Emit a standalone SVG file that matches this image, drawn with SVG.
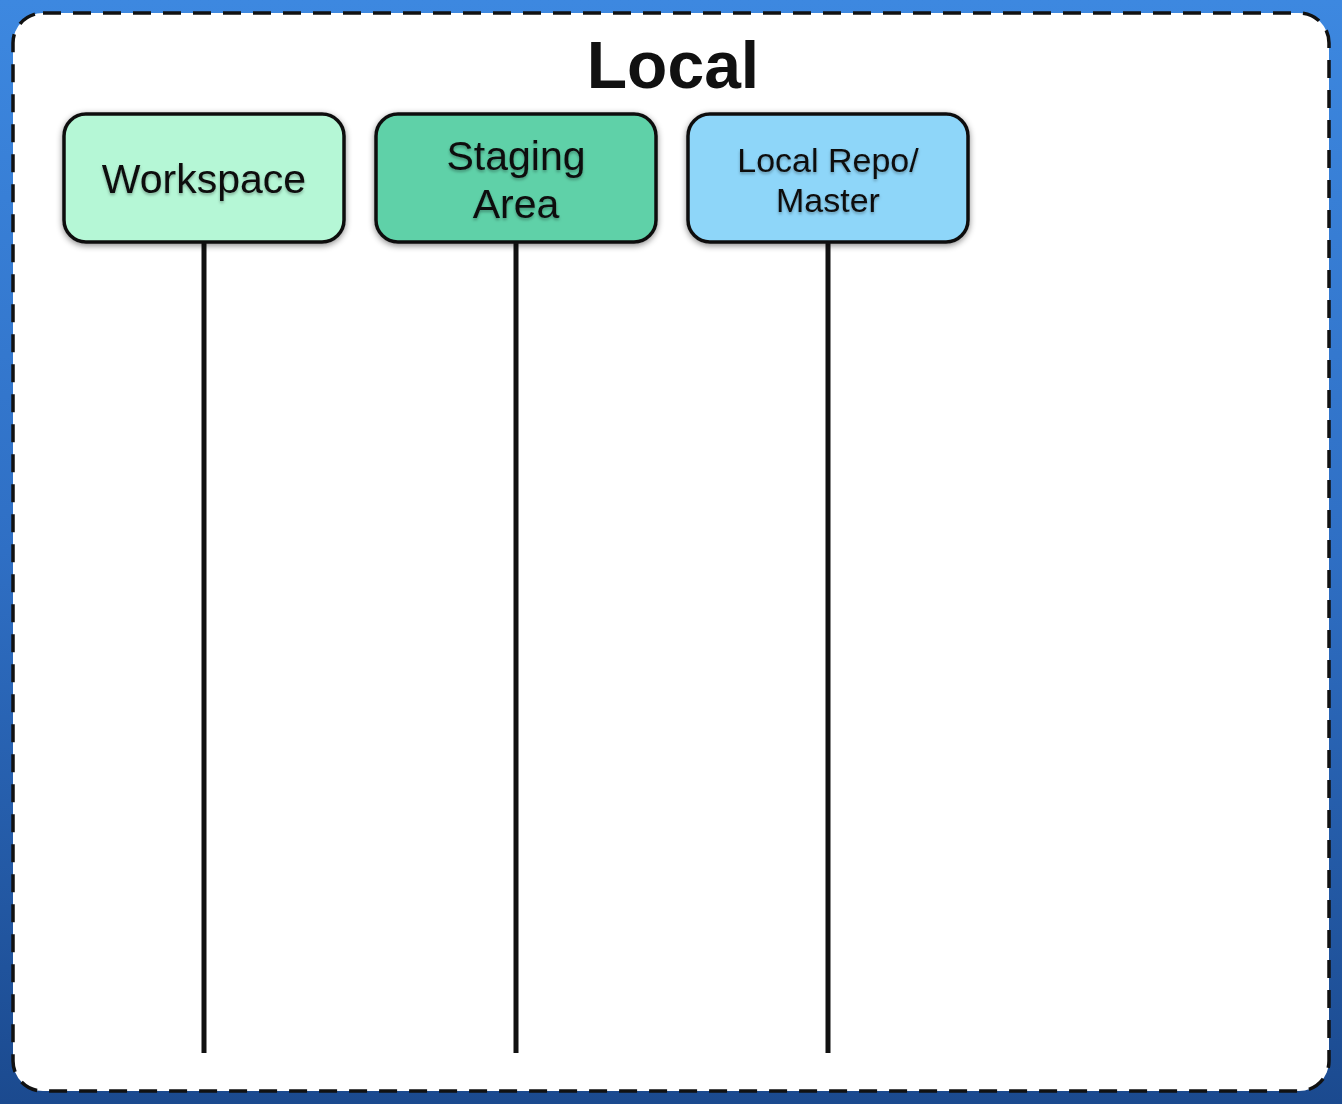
<svg xmlns="http://www.w3.org/2000/svg" width="1342" height="1104" viewBox="0 0 1342 1104">
<defs>
<linearGradient id="bg" x1="0" y1="0" x2="0" y2="1">
<stop offset="0" stop-color="#3d88e0"/>
<stop offset="0.5" stop-color="#2f6fc4"/>
<stop offset="1" stop-color="#1b4a8f"/>
</linearGradient>
<filter id="sh" x="-10%" y="-10%" width="120%" height="130%">
<feDropShadow dx="0" dy="2" stdDeviation="3" flood-color="#000" flood-opacity="0.45"/>
</filter>
<filter id="tsh" x="-5%" y="-10%" width="110%" height="130%">
<feDropShadow dx="0" dy="2" stdDeviation="1.5" flood-color="#000" flood-opacity="0.3"/>
</filter>
</defs>
<style>
.node{stroke:#111;stroke-width:3.5}
.lbl{font-family:"Liberation Sans",Arial,sans-serif;fill:#111;text-anchor:middle}
.conn line{stroke:#111;stroke-width:5}
</style>
<rect x="0" y="0" width="1342" height="1104" fill="url(#bg)"/>
<rect id="frame" x="13" y="13" width="1316" height="1078" rx="30" fill="#fff" stroke="#111" stroke-width="3.5" stroke-dasharray="18 12"/>
<text id="title" x="673" y="88" class="lbl" font-size="66" font-weight="bold">Local</text>
<g id="connectors" class="conn">
<line x1="204" y1="242" x2="204" y2="1053"/>
<line x1="516" y1="242" x2="516" y2="1053"/>
<line x1="828" y1="242" x2="828" y2="1053"/>
</g>
<g id="workspace">
<rect x="64" y="114" width="280" height="128" rx="22" fill="#b5f7d6" class="node" filter="url(#sh)"/>
<text x="204" y="193" class="lbl" font-size="41" filter="url(#tsh)">Workspace</text>
</g>
<g id="staging">
<rect x="376" y="114" width="280" height="128" rx="22" fill="#5fd1a8" class="node" filter="url(#sh)"/>
<text x="516" y="170" class="lbl" font-size="41" filter="url(#tsh)">Staging</text>
<text x="516" y="218" class="lbl" font-size="41" filter="url(#tsh)">Area</text>
</g>
<g id="localrepo">
<rect x="688" y="114" width="280" height="128" rx="22" fill="#8ed6f9" class="node" filter="url(#sh)"/>
<text x="828" y="172" class="lbl" font-size="34" filter="url(#tsh)">Local Repo/</text>
<text x="828" y="212" class="lbl" font-size="34" filter="url(#tsh)">Master</text>
</g>
</svg>
